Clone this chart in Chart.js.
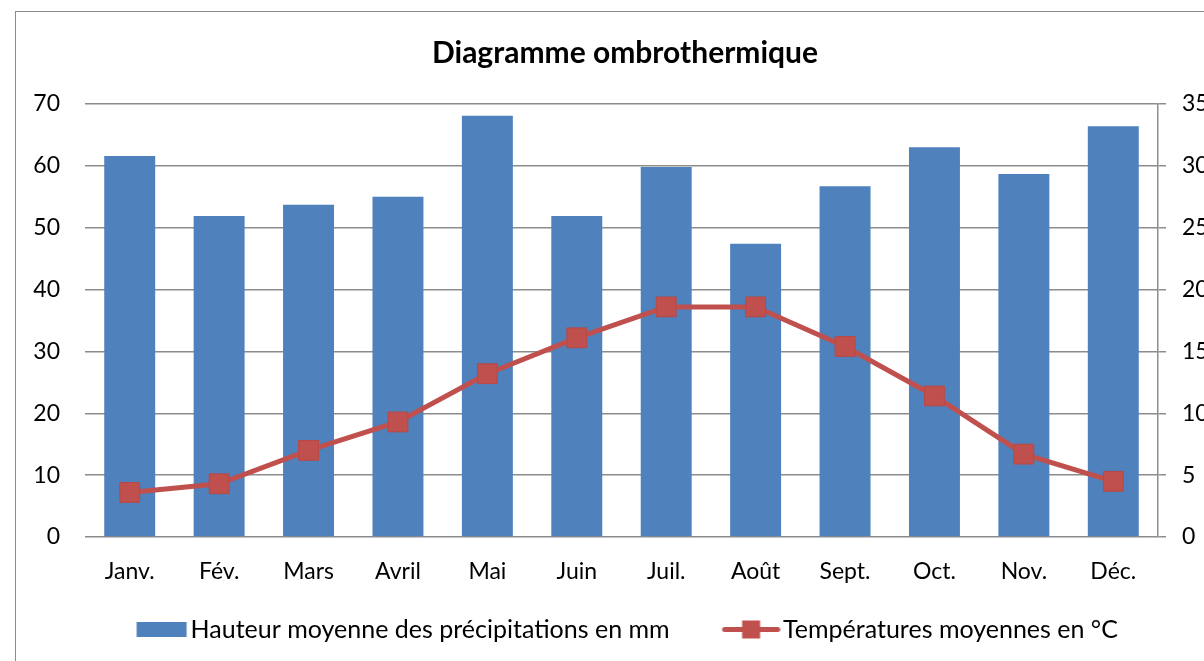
<!DOCTYPE html>
<html><head><meta charset="utf-8">
<script src="https://cdn.jsdelivr.net/npm/chart.js@4.4.0/dist/chart.umd.min.js"></script>
<style>
html,body{margin:0;padding:0;background:#fff;overflow:hidden;width:1204px;height:661px;}
#frame{position:absolute;left:15px;top:11px;width:1260px;height:720px;border:1.5px solid #8c8c8c;box-sizing:border-box;}
#wrap{position:absolute;left:17px;top:13px;width:1216px;height:680px;}
</style></head><body>
<div id="frame"></div>
<div id="wrap"><canvas id="c" width="1216" height="680"></canvas></div>
<script>
const months = ['Janv.', 'Fév.', 'Mars', 'Avril', 'Mai', 'Juin', 'Juil.', 'Août', 'Sept.', 'Oct.', 'Nov.', 'Déc.'];
const precipitation = [61.6, 51.9, 53.7, 55.0, 68.1, 51.9, 59.8, 47.4, 56.7, 63.0, 58.7, 66.4];
const temperature = [3.6, 4.3, 7.0, 9.3, 13.2, 16.1, 18.6, 18.6, 15.4, 11.4, 6.7, 4.5];
const precipLabel = 'Hauteur moyenne des précipitations en mm';
const tempLabel = 'Températures moyennes en °C';
const titleText = 'Diagramme ombrothermique';

const FONT = 'Lato, "Open Sans", sans-serif';
const BLUE = '#4f81bd';
const RED = '#c0504d';
const GRID = '#8c8c8c';

function swatchBar() {
  const c = document.createElement('canvas');
  c.width = 66; c.height = 25;
  const x = c.getContext('2d');
  x.fillStyle = BLUE;
  x.fillRect(14.5, 5, 50, 15);
  return c;
}
function swatchLine() {
  const c = document.createElement('canvas');
  c.width = 66; c.height = 25;
  const x = c.getContext('2d');
  x.strokeStyle = RED; x.lineWidth = 5; x.lineCap = 'round';
  x.beginPath(); x.moveTo(10, 12.5); x.lineTo(63, 12.5); x.stroke();
  x.fillStyle = RED;
  x.fillRect(27.5, 3.5, 18, 18);
  return c;
}
const sw1 = swatchBar();
const sw2 = swatchLine();

// moves the legend closer to the axis labels (as in the original layout)
const legendLift = {
  id: 'legendLift',
  afterLayout(chart) {
    const l = chart.legend;
    if (l) { l.top -= 25; l.bottom -= 25; }
  }
};

new Chart(document.getElementById('c'), {
  data: {
    labels: months,
    datasets: [
      {
        type: 'line',
        label: tempLabel,
        data: temperature,
        yAxisID: 'y1',
        borderColor: RED,
        borderWidth: 5,
        pointStyle: 'rect',
        pointRadius: 14,
        pointHoverRadius: 14,
        pointBackgroundColor: RED,
        pointBorderColor: '#b84845',
        pointBorderWidth: 1,
        tension: 0,
        order: 0
      },
      {
        type: 'bar',
        label: precipLabel,
        data: precipitation,
        yAxisID: 'y',
        backgroundColor: BLUE,
        barPercentage: 0.57,
        categoryPercentage: 1,
        order: 1
      }
    ]
  },
  plugins: [legendLift],
  options: {
    responsive: false,
    animation: false,
    layout: { padding: { left: 0, right: 0, top: 0, bottom: 16 } },
    plugins: {
      title: {
        display: true,
        text: titleText,
        color: '#000',
        font: { family: FONT, size: 30, weight: 'bold' },
        padding: { top: 22, bottom: 33 }
      },
      legend: {
        position: 'bottom',
        labels: {
          color: '#000',
          font: { family: FONT, size: 25 },
          usePointStyle: true,
          pointStyleWidth: 46,
          padding: 55,
          generateLabels: () => [
            { text: precipLabel, pointStyle: sw1, fillStyle: BLUE, strokeStyle: BLUE, lineWidth: 0, datasetIndex: 1, hidden: false },
            { text: tempLabel, pointStyle: sw2, fillStyle: RED, strokeStyle: RED, lineWidth: 0, datasetIndex: 0, hidden: false }
          ]
        }
      },
      tooltip: { enabled: false }
    },
    scales: {
      x: {
        grid: { display: false, drawTicks: false },
        border: { display: false },
        ticks: { color: '#000', font: { family: FONT, size: 23 }, padding: 21, maxRotation: 0 },
        afterFit: s => { s.height = 50; }
      },
      y: {
        position: 'left',
        min: 0, max: 70,
        ticks: { stepSize: 10, color: '#000', font: { family: FONT, size: 23 }, padding: 25 },
        grid: { color: GRID, lineWidth: 1.5, drawTicks: false },
        border: { display: false },
        afterFit: s => { s.width = 68; }
      },
      y1: {
        position: 'right',
        min: 0, max: 35,
        ticks: { stepSize: 5, color: '#000', font: { family: FONT, size: 23 }, padding: 16 },
        grid: { drawOnChartArea: false, drawTicks: true, tickLength: 8, color: GRID, lineWidth: 1.5 },
        border: { display: true, color: GRID, width: 1.5 },
        afterFit: s => { s.width = 75; }
      }
    }
  }
});
</script>
</body></html>
